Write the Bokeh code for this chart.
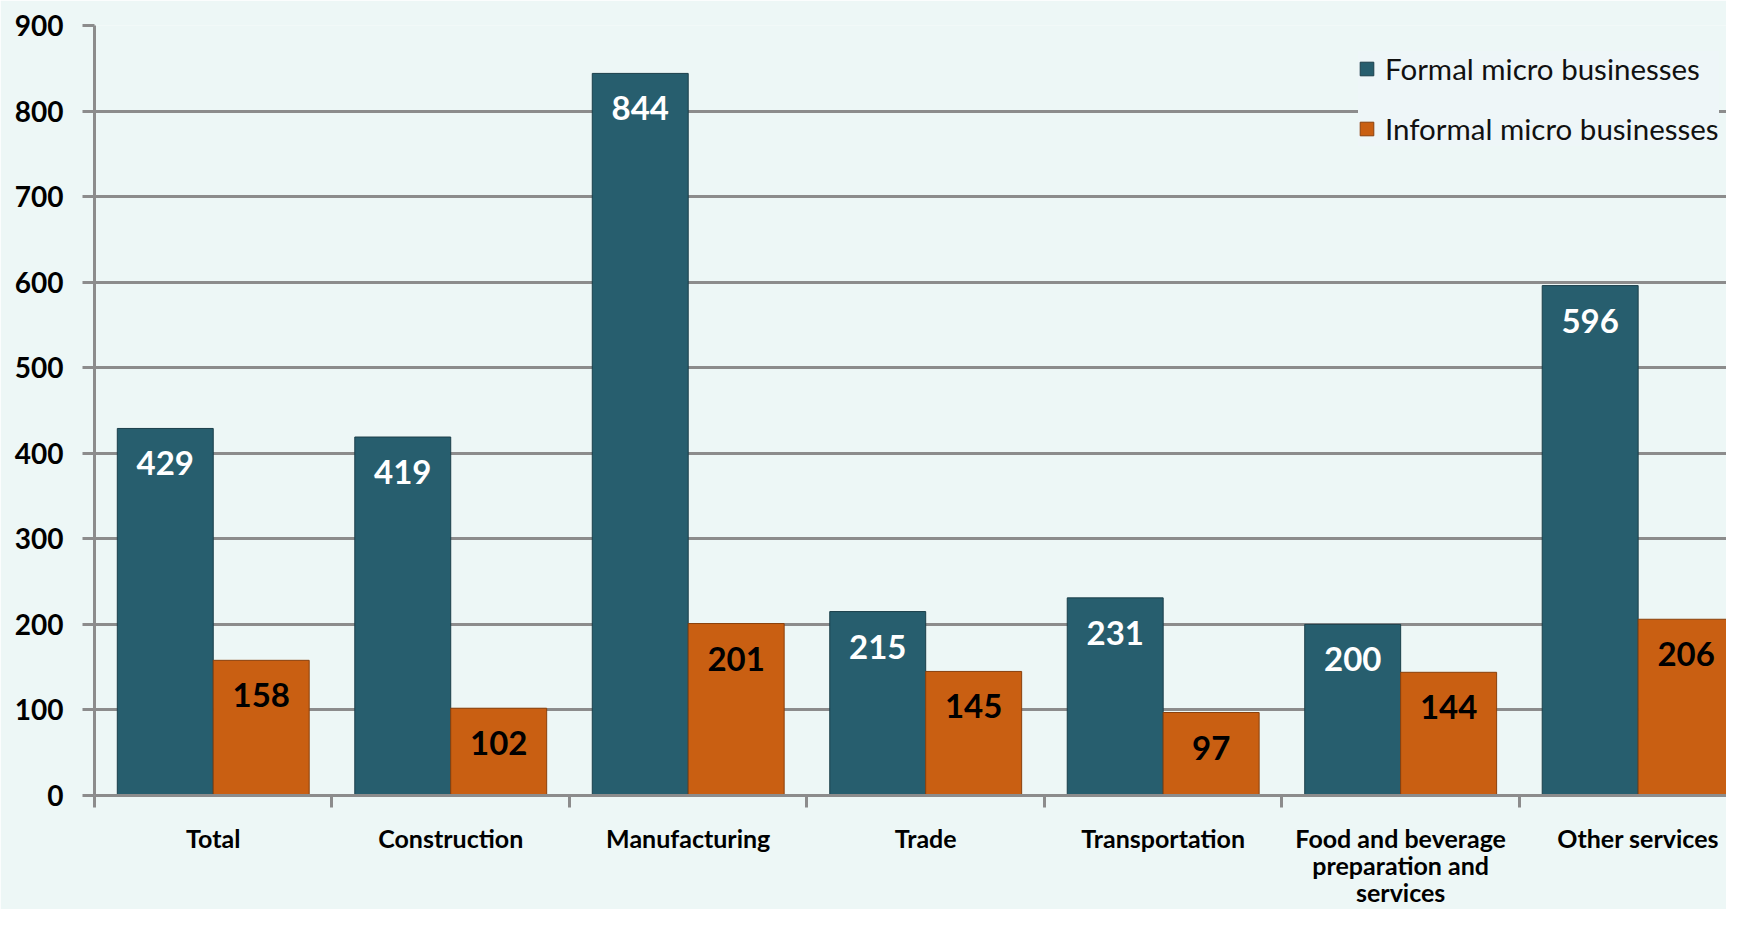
import numpy as np
from bokeh.plotting import figure
from bokeh.models import Range1d, FixedTicker, ColumnDataSource, Legend, LegendItem
from bokeh.core.properties import value
from bokeh.embed import file_html
from bokeh.resources import INLINE

categories = ["Total", "Construction", "Manufacturing", "Trade", "Transportation",
              "Food and beverage\npreparation and\nservices", "Other services"]
formal = [429, 419, 844, 215, 231, 200, 596]
informal = [158, 102, 201, 145, 97, 144, 206]
y_ticks = [0, 100, 200, 300, 400, 500, 600, 700, 800, 900]
series_names = ["Formal micro businesses", "Informal micro businesses"]

BG = "#EDF7F6"
TEAL = "#275E6E"
ORANGE = "#C95F12"
FONT = "Lato"

n = len(categories)
idx = np.arange(n)
centers = idx + 0.5
bw = 0.404

src_f = ColumnDataSource(dict(x=centers - bw / 2, top=formal, lab=[str(v) for v in formal]))
src_i = ColumnDataSource(dict(x=centers + bw / 2, top=informal, lab=[str(v) for v in informal]))

p = figure(width=1726, height=909, output_backend="svg", toolbar_location=None,
           x_range=Range1d(0, 6.872), y_range=Range1d(0, 900),
           min_border_left=94, min_border_top=25, min_border_right=0, min_border_bottom=0)
p.background_fill_color = BG
p.border_fill_color = BG
p.outline_line_color = None

r_f = p.vbar(x="x", top="top", width=bw, bottom=0, source=src_f, fill_color=TEAL,
             line_color="#1B3F4A", line_width=1)
r_i = p.vbar(x="x", top="top", width=bw, bottom=0, source=src_i, fill_color=ORANGE,
             line_color="#8A400C", line_width=1)

p.text(x="x", y="top", text="lab", source=src_f, y_offset=35, text_align="center",
       text_baseline="middle", text_font=value(FONT), text_font_style="bold",
       text_font_size="33px", text_color="white")
p.text(x="x", y="top", text="lab", source=src_i, y_offset=35, text_align="center",
       text_baseline="middle", text_font=value(FONT), text_font_style="bold",
       text_font_size="33px", text_color="black")

# grid
p.xgrid.grid_line_color = None
p.ygrid.grid_line_color = "#8C8C8C"
p.ygrid.grid_line_width = 3
p.ygrid.ticker = FixedTicker(ticks=y_ticks)

# y axis
p.yaxis.ticker = FixedTicker(ticks=y_ticks)
p.yaxis.axis_line_color = "#8C8C8C"
p.yaxis.axis_line_width = 3
p.yaxis.major_tick_line_color = "#8C8C8C"
p.yaxis.major_tick_line_width = 3
p.yaxis.major_tick_out = 12
p.yaxis.major_tick_in = 0
p.yaxis.minor_tick_line_color = None
p.yaxis.major_label_text_font = FONT
p.yaxis.major_label_text_font_style = "bold"
p.yaxis.major_label_text_font_size = "28px"
p.yaxis.major_label_text_color = "black"
p.yaxis.major_label_standoff = 19

# x axis
p.xaxis.ticker = FixedTicker(ticks=list(centers), minor_ticks=list(range(n + 1)))
p.xaxis.major_label_overrides = {float(c): lab for c, lab in zip(centers, categories)}
p.xaxis.axis_line_color = "#8C8C8C"
p.xaxis.axis_line_width = 3
p.xaxis.major_tick_line_color = None
p.xaxis.major_tick_out = 0
p.xaxis.major_tick_in = 0
p.xaxis.minor_tick_line_color = "#8C8C8C"
p.xaxis.minor_tick_line_width = 3
p.xaxis.minor_tick_out = 12
p.xaxis.minor_tick_in = 0
p.xaxis.major_label_text_font = FONT
p.xaxis.major_label_text_font_style = "bold"
p.xaxis.major_label_text_font_size = "25px"
p.xaxis.major_label_text_line_height = 0.9
p.xaxis.major_label_text_color = "black"
p.xaxis.major_label_standoff = 15

legend = Legend(items=[LegendItem(label=series_names[0], renderers=[r_f]),
                       LegendItem(label=series_names[1], renderers=[r_i])],
                location=(1264, 649))
legend.background_fill_color = "#EEF6F8"
legend.background_fill_alpha = 1.0
legend.border_line_color = None
legend.label_text_font = FONT
legend.label_text_font_size = "29.5px"
legend.label_text_color = "#111111"
legend.glyph_width = 17
legend.glyph_height = 17
legend.label_standoff = 10
legend.spacing = 25
legend.padding = 12
legend.margin = 0
p.add_layout(legend)

open("out.html", "w").write(file_html(p, INLINE))
